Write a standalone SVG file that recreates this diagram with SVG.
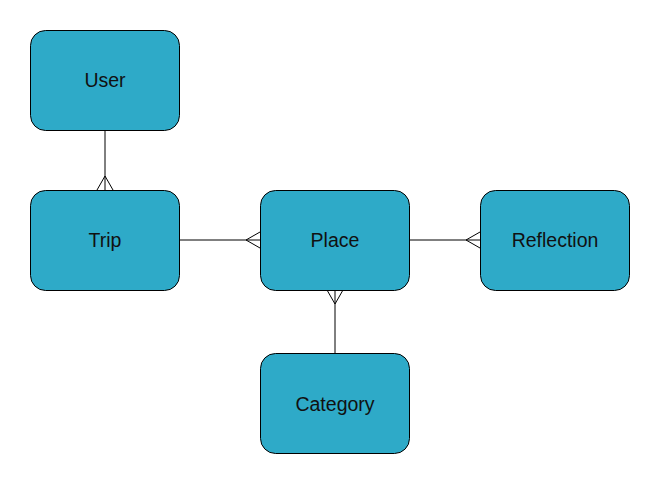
<svg xmlns="http://www.w3.org/2000/svg" width="660" height="485" viewBox="0 0 660 485">
<style>
.node rect{fill:#2eaac8;stroke:#000;stroke-width:1}
.node text{font-family:"Liberation Sans",Arial,sans-serif;font-size:19.5px;fill:#111;text-anchor:middle;dominant-baseline:central}
.edge{fill:none;stroke:#000;stroke-width:1}
</style>
<rect width="660" height="485" fill="#fff"/>
<g id="connectors">
<path class="edge" d="M105 130V190M97 190L105 176L113 190"/>
<path class="edge" d="M180 240H260M260 232L246 240L260 248"/>
<path class="edge" d="M410 240H480M480 232L466 240L480 248"/>
<path class="edge" d="M335 290V353M327 290L335 304L343 290"/>
</g>
<g id="user" class="node"><rect x="30.5" y="30.5" width="149" height="100" rx="15"/><text x="105" y="80">User</text></g>
<g id="trip" class="node"><rect x="30.5" y="190.5" width="149" height="100" rx="15"/><text x="105" y="240">Trip</text></g>
<g id="place" class="node"><rect x="260.5" y="190.5" width="149" height="100" rx="15"/><text x="335" y="240">Place</text></g>
<g id="reflection" class="node"><rect x="480.5" y="190.5" width="149" height="100" rx="15"/><text x="555" y="240">Reflection</text></g>
<g id="category" class="node"><rect x="260.5" y="353.5" width="149" height="100" rx="15"/><text x="335" y="404">Category</text></g>
</svg>
